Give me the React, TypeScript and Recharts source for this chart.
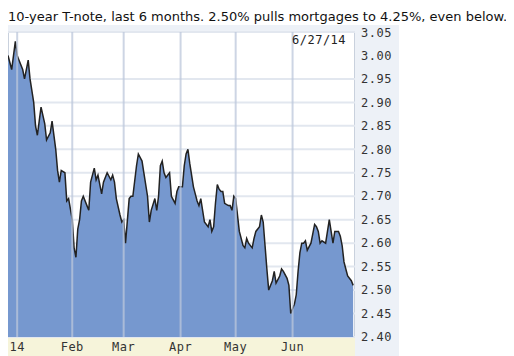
import { AreaChart, Area, XAxis, YAxis, ReferenceLine, CartesianGrid } from 'recharts';

// day of 2014 (Jan 1 = 1)
const days = [
  -3, -1, 1, 2, 3, 5, 6, 8, 9, 11, 12, 13, 14, 15, 17, 18, 20, 21, 23, 24, 25, 26, 28, 29, 30,
  32, 33, 34, 35, 36, 37, 38, 40, 41, 42, 44, 45, 46, 48, 49, 51, 53, 54, 55, 56, 58, 59,
  60, 61, 63, 64, 65, 67, 68, 70, 71, 73, 74, 75, 77, 78, 79, 80, 81, 82, 83, 85, 86, 88, 89, 90,
  92, 93, 94, 95, 96, 98, 99, 100, 101, 102, 103, 104, 106, 107, 108, 109, 110, 111, 112, 113, 114,
  115, 117, 118, 119, 120, 121, 122, 123, 125, 126, 127, 128, 130, 131, 132, 134, 135, 136, 137,
  138, 139, 141, 142, 143, 145, 146, 147, 149, 150, 151, 152, 153, 154, 155, 156, 157, 158, 159,
  160, 162, 163, 164, 165, 166, 167, 168, 170, 171, 172, 173, 174, 175, 176, 177, 178, 179, 180,
  181, 182, 184, 185,
];

const yields = [
  3.0, 2.97, 3.03, 3.0, 2.99, 2.97, 2.95, 2.99, 2.95, 2.9, 2.85, 2.83, 2.86, 2.89, 2.855, 2.82,
  2.835, 2.86, 2.8, 2.755, 2.73, 2.755, 2.75, 2.69, 2.695,
  2.65, 2.59, 2.57, 2.63, 2.65, 2.69, 2.7, 2.68, 2.67, 2.73, 2.76, 2.735, 2.745, 2.705, 2.73,
  2.75, 2.735, 2.745, 2.73, 2.695, 2.66, 2.645,
  2.65, 2.6, 2.695, 2.7, 2.7, 2.765, 2.79, 2.775, 2.75, 2.7, 2.645, 2.67, 2.695, 2.67, 2.7,
  2.765, 2.775, 2.75, 2.74, 2.75, 2.7, 2.685, 2.71, 2.72,
  2.72, 2.765, 2.79, 2.8, 2.77, 2.72, 2.705, 2.69, 2.68, 2.695, 2.67, 2.645, 2.635, 2.65, 2.625,
  2.635, 2.685, 2.725, 2.715, 2.71, 2.71,
  2.685, 2.68, 2.68, 2.67, 2.7, 2.695, 2.66, 2.625, 2.595, 2.59, 2.61, 2.6, 2.59, 2.61, 2.625,
  2.635, 2.66, 2.645, 2.595,
  2.545, 2.5, 2.52, 2.54, 2.515, 2.53, 2.545, 2.54, 2.525, 2.51, 2.45, 2.46, 2.47, 2.49, 2.54,
  2.58, 2.6, 2.6, 2.605,
  2.585, 2.6, 2.62, 2.64, 2.635, 2.625, 2.6, 2.605, 2.6, 2.625, 2.65, 2.625, 2.6, 2.625, 2.625,
  2.625, 2.615, 2.595, 2.56,
  2.545, 2.53, 2.52, 2.51,
];

const monthTicks = [2, 32, 60, 91, 121, 152];
const monthLabels = ['14', 'Feb', 'Mar', 'Apr', 'May', 'Jun'];
const yTicks = [2.4, 2.45, 2.5, 2.55, 2.6, 2.65, 2.7, 2.75, 2.8, 2.85, 2.9, 2.95, 3.0, 3.05];

const data = days.map((d, i) => ({ day: d, v: yields[i] }));

const mono = '"DejaVu Sans Mono", monospace';
const tickStyle = { fontSize: 12, fill: '#333', fontFamily: mono, letterSpacing: 0.5 };
const gridColor = '#bcc7db';

export default function App() {
  return (
    <div style={{ fontFamily: '"DejaVu Sans", Verdana, sans-serif', width: 498 }}>
      <div style={{ fontSize: 13, lineHeight: '17px', height: 17, color: '#111', whiteSpace: 'nowrap' }}>
        10-year T-note, last 6 months. 2.50% pulls mortgages to 4.25%, even below.
      </div>
      <div style={{ position: 'relative', width: 391, height: 331, background: '#edf1f7' }}>
        <div
          style={{
            position: 'absolute', left: 0, top: 7, width: 347, height: 305,
            background: '#fff', border: '1px solid #c9d1dd', boxSizing: 'border-box',
          }}
        />
        <div style={{ position: 'absolute', left: 0, top: 312, width: 347, height: 19, background: '#f6f4da' }} />
        <div style={{ position: 'absolute', left: 0, top: 0 }}>
          <AreaChart width={391} height={331} data={data} margin={{ top: 7, right: 0, bottom: 0, left: 0 }}>
            <XAxis
              dataKey="day"
              type="number"
              domain={[-3, 186]}
              ticks={monthTicks}
              tickFormatter={(d: number) => monthLabels[monthTicks.indexOf(d)]}
              axisLine={false}
              tickLine={false}
              height={19}
              tickSize={0}
              tickMargin={5}
              tick={tickStyle}
            />
            <YAxis
              orientation="right"
              domain={[2.4, 3.05]}
              ticks={yTicks}
              tickFormatter={(v: number) => v.toFixed(2)}
              axisLine={false}
              tickLine={false}
              width={44}
              tickSize={0}
              tickMargin={6}
              tick={tickStyle}
            />
            {/* plain hidden axis with the same scale, used only for the horizontal grid lines */}
            <YAxis yAxisId="grid" type="number" domain={[2.4, 3.05]} hide />
            <CartesianGrid vertical={false} stroke="#e2e7ef" strokeWidth={2} />
            <Area
              type="linear"
              dataKey="v"
              stroke="#222"
              strokeWidth={1.5}
              fill="#7698cf"
              fillOpacity={1}
              dot={false}
              isAnimationActive={false}
            />
            {yTicks.slice(1, -1).map((y) => (
              <ReferenceLine
                key={'y' + y}
                yAxisId="grid"
                y={y}
                stroke={gridColor}
                strokeOpacity={0.75}
                strokeWidth={2}
              />
            ))}
            {monthTicks.map((d) => (
              <ReferenceLine
                key={'x' + d}
                x={d}
                stroke={gridColor}
                strokeOpacity={0.75}
                strokeWidth={2}
              />
            ))}
          </AreaChart>
        </div>
        <div
          style={{
            position: 'absolute', left: 284, top: 8, fontFamily: mono, fontSize: 12,
            letterSpacing: 0.5, color: '#222', lineHeight: '14px',
          }}
        >
          6/27/14
        </div>
      </div>
    </div>
  );
}
